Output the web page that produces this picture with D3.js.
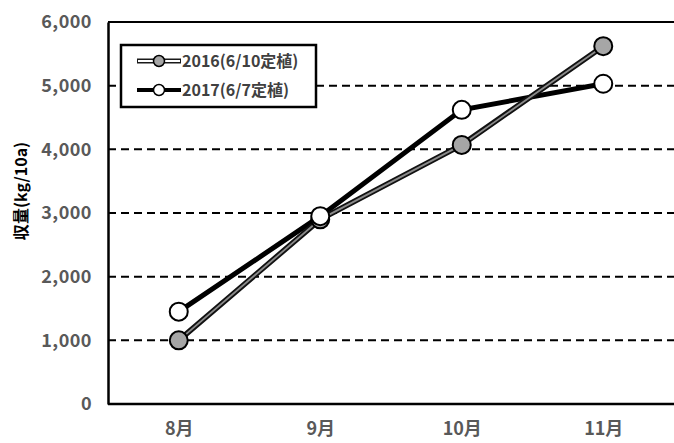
<!DOCTYPE html>
<html><head><meta charset="utf-8">
<script src="https://cdn.jsdelivr.net/npm/d3@7"></script>
<style>body{margin:0;background:#fff}svg{display:block}</style>
</head><body>
<svg id="c" width="674" height="443"></svg>
<script>
const categories = ["8月","9月","10月","11月"];
const series2016 = [1000, 2900, 4070, 5620];
const series2017 = [1450, 2950, 4620, 5030];
const seriesNames = ["2016(6/10定植)","2017(6/7定植)"];
const yTicks = [0,1000,2000,3000,4000,5000,6000];
const yTitle = "収量(kg/10a)";

const svg = d3.select("#c");
const L=108, R=674, T=22, B=404;
const x = d3.scalePoint().domain(categories).range([L,R]).padding(0.5);
const y = d3.scaleLinear().domain([0,6000]).range([B,T]);
const font = "'Noto Sans CJK JP','Noto Sans',sans-serif";

// gridlines
svg.append("g").selectAll("line").data(yTicks.filter(d=>d>0&&d<6000)).join("line")
  .attr("x1",L).attr("x2",R).attr("y1",d=>y(d)).attr("y2",d=>y(d))
  .attr("stroke","#000").attr("stroke-width",2).attr("stroke-dasharray","8,5");
// top border
svg.append("line").attr("x1",L).attr("x2",R).attr("y1",y(6000)).attr("y2",y(6000))
  .attr("stroke","#000").attr("stroke-width",2);

// axes
const yAxis = svg.append("g").attr("transform",`translate(${L},0)`)
  .call(d3.axisLeft(y).tickValues(yTicks).tickSize(0).tickPadding(16).tickFormat(d3.format(",")));
yAxis.select(".domain").attr("stroke","#000").attr("stroke-width",2.5);
yAxis.selectAll("text").attr("font-family",font).attr("font-weight","bold")
  .attr("font-size",18).attr("fill","#595959").attr("letter-spacing","0.5px");

const xAxis = svg.append("g").attr("transform",`translate(0,${B})`)
  .call(d3.axisBottom(x).tickSize(0).tickPadding(18));
xAxis.select(".domain").attr("d",`M${L},0H${R}`).attr("stroke","#000").attr("stroke-width",2.5);
xAxis.selectAll("text").attr("font-family",font).attr("font-weight","bold")
  .attr("font-size",18).attr("fill","#595959");

// y title
svg.append("text").attr("transform","translate(27,191) rotate(-90)")
  .attr("text-anchor","middle").attr("font-family",font).attr("font-weight","bold")
  .attr("font-size",16).attr("fill","#000").text(yTitle);

const line = d3.line().x((d,i)=>x(categories[i])).y(d=>y(d));

// 2017 line
svg.append("path").attr("d",line(series2017)).attr("fill","none")
  .attr("stroke","#000").attr("stroke-width",5);
// 2016 line (compound)
svg.append("path").attr("d",line(series2016)).attr("fill","none")
  .attr("stroke","#111").attr("stroke-width",5.5);
svg.append("path").attr("d",line(series2016)).attr("fill","none")
  .attr("stroke","#8a8a8a").attr("stroke-width",1.8);

// markers
svg.append("g").selectAll("circle").data(series2016).join("circle")
  .attr("cx",(d,i)=>x(categories[i])).attr("cy",d=>y(d)).attr("r",9)
  .attr("fill","#a6a6a6").attr("stroke","#000").attr("stroke-width",2);
svg.append("g").selectAll("circle").data(series2017).join("circle")
  .attr("cx",(d,i)=>x(categories[i])).attr("cy",d=>y(d)).attr("r",9)
  .attr("fill","#fff").attr("stroke","#000").attr("stroke-width",2);

// legend
const lg = svg.append("g");
lg.append("rect").attr("x",121).attr("y",45).attr("width",195).attr("height",62)
  .attr("fill","#fff").attr("stroke","#000").attr("stroke-width",2.5);
const rows = [61, 90];
// row 1 (2016)
lg.append("line").attr("x1",137).attr("x2",181).attr("y1",rows[0]).attr("y2",rows[0])
  .attr("stroke","#1a1a1a").attr("stroke-width",5);
lg.append("line").attr("x1",138).attr("x2",180).attr("y1",rows[0]).attr("y2",rows[0])
  .attr("stroke","#fff").attr("stroke-width",2);
lg.append("circle").attr("cx",159).attr("cy",rows[0]).attr("r",5.5)
  .attr("fill","#a6a6a6").attr("stroke","#000").attr("stroke-width",1.5);
// row 2 (2017)
lg.append("line").attr("x1",137).attr("x2",181).attr("y1",rows[1]).attr("y2",rows[1])
  .attr("stroke","#000").attr("stroke-width",4);
lg.append("circle").attr("cx",159).attr("cy",rows[1]).attr("r",5.5)
  .attr("fill","#fff").attr("stroke","#000").attr("stroke-width",1.5);
lg.selectAll("text.lt").data(seriesNames).join("text").attr("class","lt")
  .attr("x",182).attr("y",(d,i)=>rows[i]).attr("dy","0.35em")
  .attr("font-family",font).attr("font-weight","bold").attr("font-size",16)
  .attr("fill","#404040").text(d=>d);
</script>
</body></html>
